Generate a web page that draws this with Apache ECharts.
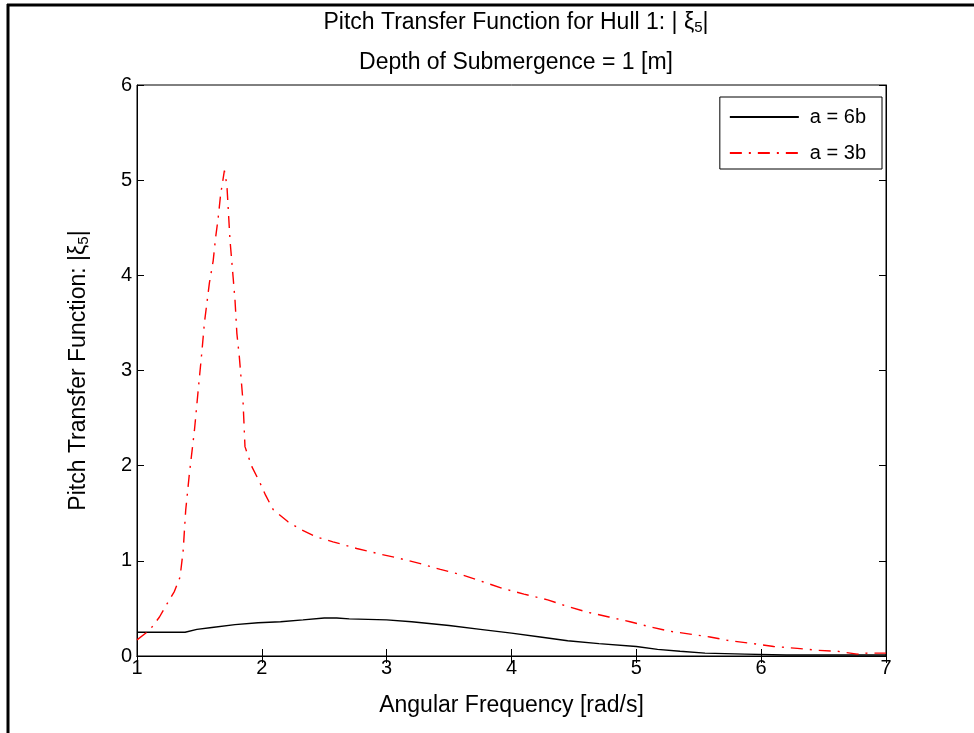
<!DOCTYPE html>
<html>
<head>
<meta charset="utf-8">
<title>Pitch Transfer Function</title>
<script src="https://cdn.jsdelivr.net/npm/echarts@6/dist/echarts.min.js"></script>
<style>
  html, body { margin: 0; padding: 0; background: #fff; }
  #main { width: 974px; height: 733px; }
</style>
</head>
<body>
<div id="main"></div>
<script>
// a = 6b (solid black)
var freq6b = [1.0, 1.2, 1.385, 1.48, 1.6, 1.785, 1.97, 2.15, 2.33, 2.5, 2.6, 2.7, 3.0, 3.2, 3.5, 3.75, 4.0, 4.23, 4.45, 4.7, 5.0, 5.17, 5.35, 5.55, 5.87, 6.2, 6.6, 7.0];
var xi6b   = [0.25, 0.25, 0.25, 0.28, 0.30, 0.33, 0.35, 0.36, 0.38, 0.40, 0.40, 0.39, 0.38, 0.36, 0.32, 0.28, 0.24, 0.20, 0.16, 0.13, 0.10, 0.07, 0.05, 0.03, 0.02, 0.01, 0.01, 0.01];

// a = 3b (red dash-dot)
var freq3b = [1.0, 1.1, 1.18, 1.25, 1.3, 1.345, 1.37, 1.39, 1.42, 1.46, 1.49, 1.52, 1.54, 1.56, 1.58, 1.61, 1.63, 1.65, 1.67, 1.70,
              1.72, 1.745, 1.77, 1.785, 1.80, 1.82, 1.85, 1.865, 1.92, 1.985, 2.03, 2.09, 2.21, 2.31, 2.44, 2.57, 2.76, 2.95, 3.09, 3.27,
              3.43, 3.61, 3.77, 3.93, 4.1, 4.29, 4.45, 4.61, 4.78, 4.95, 5.1, 5.27, 5.43, 5.59, 5.75, 5.94, 6.1, 6.29, 6.45, 6.61, 6.77, 6.85, 7.0];
var xi3b   = [0.17, 0.27, 0.41, 0.57, 0.68, 0.83, 1.11, 1.53, 1.92, 2.37, 2.79, 3.2, 3.5, 3.71, 3.92, 4.15, 4.4, 4.6, 4.85, 5.1,
              4.95, 4.37, 3.98, 3.74, 3.39, 3.14, 2.66, 2.2, 1.99, 1.82, 1.69, 1.54, 1.41, 1.33, 1.25, 1.20, 1.13, 1.07, 1.03, 0.97,
              0.91, 0.85, 0.78, 0.71, 0.65, 0.59, 0.52, 0.46, 0.41, 0.36, 0.31, 0.26, 0.23, 0.20, 0.16, 0.13, 0.10, 0.08, 0.06, 0.05, 0.02, 0.03, 0.03];

function pairs(xs, ys) {
    var out = [];
    for (var i = 0; i < xs.length; i++) out.push([xs[i], ys[i]]);
    return out;
}

var font = 'Liberation Sans, Arial, sans-serif';
var subRich = {
    sub: { fontSize: 15, verticalAlign: 'bottom', padding: [10, 0, 0, 0], fontFamily: font, color: '#000' }
};

var myChart = echarts.init(document.getElementById('main'), null, { renderer: 'canvas' });
var option = {
    backgroundColor: '#fff',
    animation: false,
    textStyle: { fontFamily: font },
    title: [
        {
            text: 'Pitch Transfer Function for Hull 1: | ξ{sub|5}|',
            left: 511, top: 5, textAlign: 'center',
            textStyle: { fontSize: 23, fontWeight: 'normal', color: '#000', fontFamily: font, rich: subRich }
        },
        {
            text: 'Depth of Submergence = 1 [m]',
            left: 511, top: 46, textAlign: 'center',
            textStyle: { fontSize: 23, fontWeight: 'normal', color: '#000', fontFamily: font }
        }
    ],
    legend: {
        orient: 'vertical',
        right: 92, top: 97,
        backgroundColor: '#fff',
        borderColor: '#000', borderWidth: 1,
        padding: [10, 16, 6, 9],
        itemWidth: 69, itemHeight: 14,
        itemGap: 16,
        itemStyle: { opacity: 0 },
        textStyle: { fontSize: 20, color: '#000', fontFamily: font, padding: [0, 0, 0, 6] },
        data: ['a = 6b', 'a = 3b']
    },
    grid: {
        left: 137, right: 88, top: 85, bottom: 77,
        show: true, borderColor: '#000', borderWidth: 1,
        containLabel: false
    },
    xAxis: [
        {
            type: 'value', min: 1, max: 7, interval: 1,
            name: 'Angular Frequency [rad/s]', nameLocation: 'middle', nameGap: 38,
            nameTextStyle: { fontSize: 23, color: '#000' },
            axisLine: { lineStyle: { color: '#000', width: 1 } },
            axisTick: { inside: true, length: 7, lineStyle: { color: '#000' } },
            axisLabel: { fontSize: 20, color: '#000', margin: 2 },
            splitLine: { show: false }
        },
        {
            type: 'value', min: 1, max: 7, interval: 1, position: 'top',
            axisLine: { lineStyle: { color: '#000' } },
            axisTick: { inside: true, length: 7, lineStyle: { color: '#000' } },
            axisLabel: { show: false },
            splitLine: { show: false }
        }
    ],
    yAxis: [
        {
            type: 'value', min: 0, max: 6, interval: 1,
            name: 'Pitch Transfer Function: |ξ{sub|5}|', nameLocation: 'middle', nameGap: 46,
            nameTextStyle: { fontSize: 23, color: '#000', rich: subRich },
            axisLine: { lineStyle: { color: '#000', width: 1 } },
            axisTick: { inside: true, length: 7, lineStyle: { color: '#000' } },
            axisLabel: { fontSize: 20, color: '#000', margin: 5 },
            splitLine: { show: false }
        },
        {
            type: 'value', min: 0, max: 6, interval: 1, position: 'right',
            axisLine: { lineStyle: { color: '#000' } },
            axisTick: { inside: true, length: 7, lineStyle: { color: '#000' } },
            axisLabel: { show: false },
            splitLine: { show: false }
        }
    ],
    series: [
        {
            name: 'a = 6b', type: 'line',
            data: pairs(freq6b, xi6b),
            symbol: 'none', smooth: false,
            lineStyle: { color: '#000', width: 1.4, type: 'solid' },
            itemStyle: { color: '#000' }
        },
        {
            name: 'a = 3b', type: 'line',
            data: pairs(freq3b, xi3b),
            symbol: 'none', smooth: false,
            lineStyle: { color: '#ff0000', width: 1.4, type: [12, 7, 2, 7] },
            itemStyle: { color: '#ff0000' }
        }
    ],
    graphic: [
        // outer frame of the figure (top and left edges)
        { type: 'line', shape: { x1: 7, y1: 5, x2: 974, y2: 5 }, style: { stroke: '#000', lineWidth: 3 } },
        { type: 'line', shape: { x1: 8, y1: 4, x2: 8, y2: 733 }, style: { stroke: '#000', lineWidth: 3 } }
    ]
};
myChart.setOption(option);
</script>
</body>
</html>
